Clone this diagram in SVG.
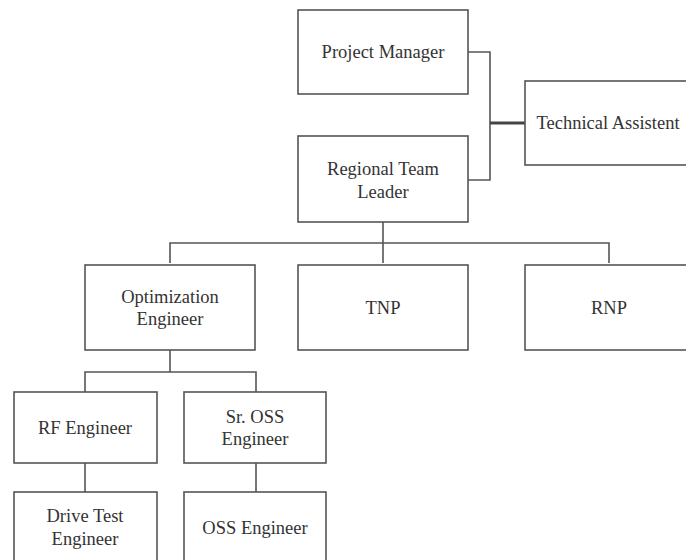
<svg xmlns="http://www.w3.org/2000/svg" width="686" height="560" viewBox="0 0 686 560">
<style>
.box{fill:#fff;stroke:#555;stroke-width:1.6}
.ln{fill:none;stroke:#555;stroke-width:1.6}
.thick{fill:none;stroke:#444;stroke-width:3}
.t{font-family:'Liberation Serif','Times New Roman','DejaVu Serif',serif;font-size:18.5px;fill:#333;text-anchor:middle}
</style>
<rect width="686" height="560" fill="#fff"/>
<g id="connectors">
<polyline class="ln" points="468,52 490,52 490,180 468,180"/>
<line class="thick" x1="490" y1="123" x2="525" y2="123"/>
<line class="ln" x1="383" y1="222" x2="383" y2="263"/>
<polyline class="ln" points="170,263 170,243 609,243 609,263"/>
<line class="ln" x1="170" y1="350" x2="170" y2="372"/>
<polyline class="ln" points="85,392 85,372 256,372 256,392"/>
<line class="ln" x1="85" y1="463" x2="85" y2="492"/>
<line class="ln" x1="256" y1="463" x2="256" y2="492"/>
</g>
<g class="t" font-family="Liberation Serif, serif">
<g id="project-manager"><rect class="box" x="298" y="10" width="170" height="84"/><text x="383" y="58">Project Manager</text></g>
<g id="technical-assistent"><rect class="box" x="525" y="81" width="168" height="84"/><text x="608" y="129">Technical Assistent</text></g>
<g id="regional-team-leader"><rect class="box" x="298" y="136" width="170" height="86"/><text x="383" y="175">Regional Team</text><text x="383" y="198">Leader</text></g>
<g id="optimization-engineer"><rect class="box" x="85" y="265" width="170" height="85"/><text x="170" y="303">Optimization</text><text x="170" y="325">Engineer</text></g>
<g id="tnp"><rect class="box" x="298" y="265" width="170" height="85"/><text x="383" y="314">TNP</text></g>
<g id="rnp"><rect class="box" x="525" y="265" width="168" height="85"/><text x="609" y="314">RNP</text></g>
<g id="rf-engineer"><rect class="box" x="14" y="392" width="143" height="71"/><text x="85" y="434">RF Engineer</text></g>
<g id="sr-oss-engineer"><rect class="box" x="184" y="392" width="142" height="71"/><text x="255" y="423">Sr. OSS</text><text x="255" y="445">Engineer</text></g>
<g id="drive-test-engineer"><rect class="box" x="14" y="492" width="143" height="80"/><text x="85" y="522">Drive Test</text><text x="85" y="545">Engineer</text></g>
<g id="oss-engineer"><rect class="box" x="184" y="492" width="142" height="80"/><text x="255" y="534">OSS Engineer</text></g>
</g>
</svg>
